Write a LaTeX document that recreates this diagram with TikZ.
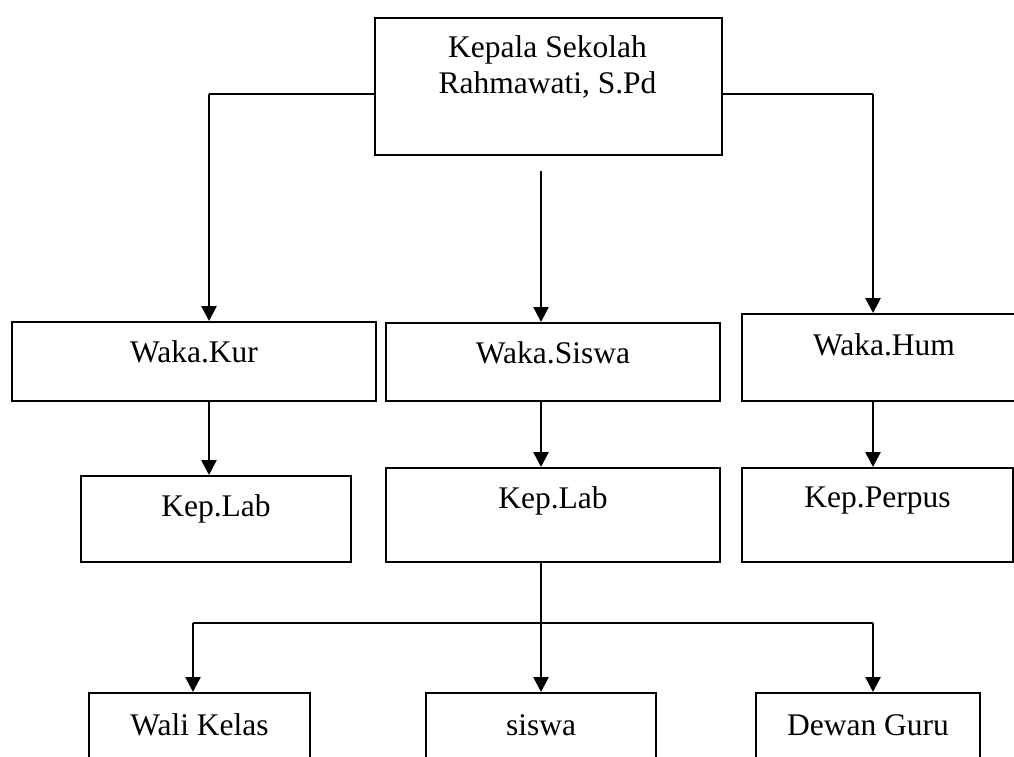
\documentclass[tikz,border=0pt]{standalone}
\usepackage{fontspec}
\setmainfont{Liberation Serif}
\usetikzlibrary{arrows.meta,calc}
\begin{document}
\begin{tikzpicture}[x=1pt,y=-1pt,
  txt/.style={font=\fontsize{31.5}{36}\selectfont, inner sep=0pt},
  box/.style={draw, line width=2pt, inner sep=0pt, anchor=north west, font=\fontsize{31.5}{36}\selectfont},
  arr/.style={line width=2.6pt, -{Triangle[length=15pt,width=15pt]}},
  link/.style={line width=2pt}]
\clip (0,0) rectangle (1014,756);
\fill[white] (0,0) rectangle (1014,756);

% top box
\node[box, minimum width=347pt, minimum height=137pt] (kepsek) at (374,17) {};
\node[txt, anchor=base] (kepsekA) at (547.5,57) {Kepala Sekolah};
\node[txt, anchor=base] (kepsekB) at (547.5,93) {Rahmawati, S.Pd};

% second row
\node[box, minimum width=364pt, text height=40pt, text depth=39pt] (wakakur) at (11,321) {Waka.Kur};
\node[box, minimum width=334pt, text height=40pt, text depth=38pt] (wakasiswa) at (385,322) {Waka.Siswa};
\node[box, minimum width=284pt, text height=41pt, text depth=46pt] (wakahum) at (741,313) {Waka.Hum};

% third row
\node[box, minimum width=270pt, text height=40pt, text depth=46pt] (keplabA) at (80,475) {Kep.Lab};
\node[box, minimum width=334pt, text height=40pt, text depth=54pt] (keplabB) at (385,467) {Kep.Lab};
\node[box, minimum width=271pt, text height=39pt, text depth=55pt] (kepperpus) at (741,467) {Kep.Perpus};

% bottom row
\node[box, minimum width=221pt, text height=42pt, text depth=60pt] (wali) at (88,692) {Wali Kelas};
\node[box, minimum width=230pt, text height=42pt, text depth=60pt] (siswa) at (425,692) {siswa};
\node[box, minimum width=224pt, text height=42pt, text depth=60pt] (dewan) at (755,692) {Dewan Guru};

% connectors
\coordinate (cornerL) at (209,94);
\coordinate (cornerR) at (873,94);
\coordinate (midtop) at (541,171);
\coordinate (busL) at (193,623);
\coordinate (busR) at (873,623);

\draw[link] (kepsek.west |- cornerL) -- (cornerL);
\draw[arr] (cornerL) -- (cornerL |- wakakur.north);
\draw[arr] (midtop) -- (midtop |- wakasiswa.north);
\draw[link] (kepsek.east |- cornerR) -- (cornerR);
\draw[arr] (cornerR) -- (cornerR |- wakahum.north);

\draw[arr] (cornerL |- wakakur.south) -- (cornerL |- keplabA.north);
\draw[arr] (midtop |- wakasiswa.south) -- (midtop |- keplabB.north);
\draw[arr] (cornerR |- wakahum.south) -- (cornerR |- kepperpus.north);

\draw[arr] (midtop |- keplabB.south) -- (midtop |- siswa.north);
\draw[link] (busL) -- (busR);
\draw[arr] (busL) -- (busL |- wali.north);
\draw[arr] (busR) -- (busR |- dewan.north);
\end{tikzpicture}
\end{document}
